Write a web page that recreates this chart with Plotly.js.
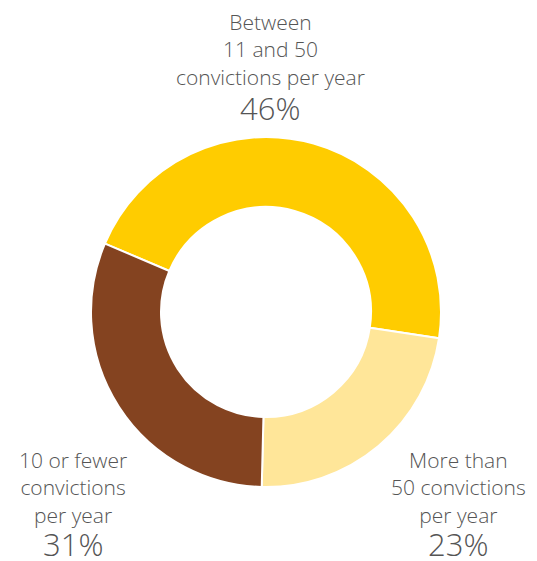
<!DOCTYPE html>
<html>
<head>
<meta charset="utf-8">
<script src="https://cdn.plot.ly/plotly-3.0.1.min.js"></script>
<style>html,body{margin:0;padding:0;background:#fff;}#chart{width:537px;height:561px;}</style>
</head>
<body>
<div id="chart"></div>
<script>
const categories = ["Between<br>11 and 50<br>convictions per year", "More than<br>50 convictions<br>per year", "10 or fewer<br>convictions<br>per year"];
const values = [46, 23, 31];
const percentLabels = ["46%", "23%", "31%"];
const colors = ["#FFCC00", "#FFE699", "#844320"];

const textColor = "#555555";
const font = "Open Sans, DejaVu Sans, sans-serif";
const labelPos = [
  {x: 270, y: 50, py: 108},
  {x: 458, y: 487, py: 544},
  {x: 73, y: 487, py: 544}
];
const W = 537, H = 561;
const annotations = [];
categories.forEach((c, i) => {
  annotations.push({
    text: c, xref: "paper", yref: "paper",
    x: labelPos[i].x / W, y: 1 - labelPos[i].y / H,
    xanchor: "center", yanchor: "middle", showarrow: false, align: "center",
    borderpad: 0,
    font: {family: font, size: 21, color: textColor, weight: 300}
  });
  annotations.push({
    text: percentLabels[i], xref: "paper", yref: "paper",
    x: labelPos[i].x / W, y: 1 - labelPos[i].py / H,
    xanchor: "center", yanchor: "middle", showarrow: false, align: "center",
    borderpad: 0,
    font: {family: font, size: 31, color: textColor, weight: 300}
  });
});

const trace = {
  type: "pie",
  labels: categories,
  values: values,
  sort: false,
  direction: "clockwise",
  rotation: -67,
  hole: 0.6,
  textinfo: "none",
  hoverinfo: "none",
  marker: {colors: colors, line: {color: "#ffffff", width: 2}},
  domain: {x: [91 / W, 441 / W], y: [1 - 487 / H, 1 - 137 / H]}
};

Plotly.newPlot("chart", [trace], {
  width: W, height: H,
  margin: {l: 0, r: 0, t: 0, b: 0},
  paper_bgcolor: "#ffffff",
  showlegend: false,
  annotations: annotations
}, {staticPlot: true});
</script>
</body>
</html>
